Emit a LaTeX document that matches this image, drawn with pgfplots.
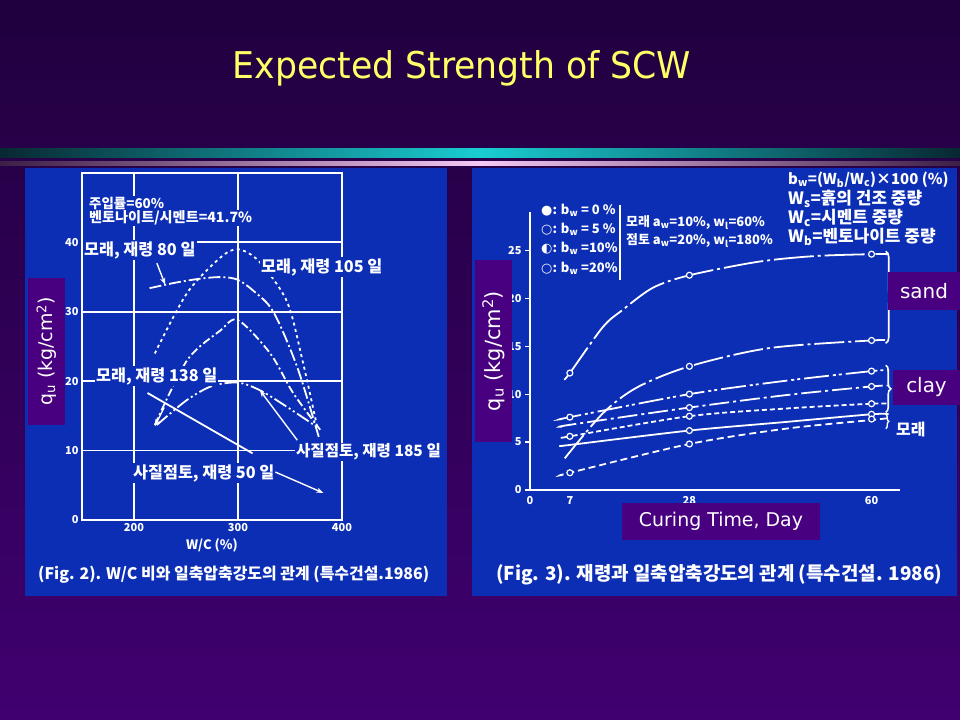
\documentclass[border=0pt]{standalone}
\usepackage{pgfplots}
\pgfplotsset{compat=1.18}
\usepackage{fontspec}
\setmainfont{DejaVu Sans}
\newfontfamily\kr{Noto Sans CJK KR}
\newfontfamily\dv{DejaVu Sans}
\usetikzlibrary{arrows.meta,decorations.pathreplacing}
\definecolor{bgtop}{RGB}{32,0,62}
\definecolor{bgbot}{RGB}{64,0,112}
\definecolor{panel}{RGB}{12,46,180}
\definecolor{lab}{RGB}{72,0,128}
\definecolor{ttl}{RGB}{255,255,102}
\definecolor{tealedge}{RGB}{8,40,50}
\definecolor{tealmid}{RGB}{25,205,210}
\definecolor{pinkedge}{RGB}{60,30,70}
\definecolor{pinkmid}{RGB}{245,200,245}
\newcommand{\fs}[1]{\fontsize{#1}{#1}\selectfont}
\begin{document}
\begin{tikzpicture}
\begin{scope}[x=1bp,y=1bp]
\shade[top color=bgtop, bottom color=bgbot] (0,0) rectangle (960,720);
\useasboundingbox (0,0) rectangle (960,720);
\node[anchor=base, text=ttl, font=\fs{37}, xscale=0.94] at (462,641) {Expected Strength of SCW};
\shade[left color=tealedge, right color=tealedge, middle color=tealmid] (0,562) rectangle (960,571);
\shade[left color=pinkedge, right color=pinkedge, middle color=pinkmid] (0,554) rectangle (960,558);
\fill[panel] (25,124) rectangle (447,552);
\fill[panel] (472,124) rectangle (957,552);
\end{scope}

% ---------- left chart ----------
\begin{axis}[at={(82bp,200bp)}, anchor=south west, scale only axis, width=260bp, height=347bp,
  xmin=150, xmax=400, ymin=0, ymax=50, clip=false,
  axis line style={white, line width=1.8pt},
  xtick={200,300,400}, ytick={0,10,20,30,40},
  grid=major, grid style={white, line width=1.8pt},
  major tick length=0pt,
  tick label style={white, font=\kr\bfseries\fs{11}},
  /pgf/number format/assume math mode=true,
  xlabel={W/C (\%)}, xlabel style={white, font=\kr\bfseries\fs{13}},
  every axis plot/.append style={white, line width=1.8pt},
]
\addplot[smooth, dash pattern=on 3pt off 3.5pt] coordinates {(220,24) (251,32.7) (283,37.8) (300,39) (320,37.3) (347,31.5) (362,23) (376,13.5)};
\addplot[smooth, dash pattern=on 12pt off 3pt on 2pt off 3pt] coordinates {(215,33.4) (240,34.2) (265,34.8) (285,35) (300,34.6) (315,33) (334,30) (357,22) (378,11.8)};
\addplot[smooth, dash pattern=on 8pt off 3pt on 2pt off 3pt] coordinates {(220,13.7) (251,23) (283,27.3) (300,28.8) (331,24) (353,18.3) (379,13)};
\addplot[smooth, dash pattern=on 14pt off 3pt on 2pt off 3pt on 2pt off 3pt] coordinates {(222,13.7) (251,17.3) (275,19.3) (300,19.8) (321,18.7) (345,16.5) (375,13.5)};
\addplot[] coordinates {(213,18.3) (314,9.6)};
\draw[white, line width=1.4pt, -{Stealth[length=7pt]}] (axis cs:222,37) -- (axis cs:230,33.9);
\draw[white, line width=1.4pt, -{Stealth[length=7pt]}] (axis cs:336,6.9) -- (axis cs:382,3.9);
\draw[white, line width=1.4pt, -{Stealth[length=7pt]}] (axis cs:357,11.5) -- (axis cs:321,18.7);
\draw[white, line width=1.4pt, -{Stealth[length=7pt]}] (axis cs:229,16.2) -- (axis cs:220,13.5);
\end{axis}

% ---------- right chart ----------
\begin{axis}[at={(530bp,230bp)}, anchor=south west, scale only axis, width=370bp, height=278bp,
  xmin=0, xmax=65, ymin=0, ymax=29, clip=false,
  axis lines=left, axis line style={white, line width=1.8pt, -},
  xtick={0,7,28,60}, ytick={0,5,10,15,20,25},
  ytick style={white, line width=1.2pt}, xtick style={draw=none},
  major tick length=5bp, tick align=outside,
  tick label style={white, font=\kr\bfseries\fs{11}},
  xticklabel style={yshift=2bp},
  /pgf/number format/assume math mode=true,
  every axis plot/.append style={white, line width=1.8pt},
]
\addplot[smooth, dash pattern=on 40pt off 4pt on 3pt off 4pt] coordinates {(6,11.5) (7,12.2) (12.8,17) (16.3,18.8) (21.6,21.1) (28,22.4) (40,23.8) (50,24.4) (60,24.6) (63,24.6)};
\addplot[smooth, dash pattern=on 30pt off 4pt on 3pt off 4pt] coordinates {(6.1,3.3) (12.8,8) (18.8,10.7) (28,12.9) (42,14.8) (60,15.6) (63,15.6)};
\addplot[smooth, dash pattern=on 25pt off 4pt on 3pt off 3pt on 3pt off 4pt] coordinates {(5.6,7.4) (7,7.6) (28,10) (45,11.4) (60,12.4) (63,12.5)};
\addplot[smooth, dash pattern=on 20pt off 4pt on 3pt off 4pt] coordinates {(5.6,6.6) (7,6.8) (28,8.6) (45,9.9) (60,10.8) (63,10.9)};
\addplot[smooth, dash pattern=on 5pt off 3pt] coordinates {(6.1,5.5) (7,5.6) (28,7.7) (45,8.5) (60,9.0) (63,9.0)};
\addplot[smooth] coordinates {(5.6,4.6) (7,4.7) (28,6.2) (45,7.1) (60,7.9) (63,7.9)};
\addplot[smooth, dash pattern=on 7pt off 4pt] coordinates {(5.8,1.6) (7,1.8) (28,4.8) (45,6.4) (60,7.3) (63,7.5)};
\addplot[only marks, mark=*, mark size=3pt, mark options={fill=panel, draw=white, line width=1.2pt}] coordinates {
(7,12.2) (28,22.4) (60,24.6) (28,12.9) (60,15.6) (7,7.6) (28,10) (60,12.4) (28,8.6) (60,10.8)
(7,5.6) (28,7.7) (60,9.0) (28,6.2) (60,7.9) (7,1.8) (28,4.8) (60,7.4)};
\draw[white, line width=1.6pt, decorate, decoration={brace, amplitude=6pt}] (axis cs:62.5,24.9) -- (axis cs:62.5,15.3);
\draw[white, line width=1.6pt, decorate, decoration={brace, amplitude=5pt}] (axis cs:62.5,13.0) -- (axis cs:62.5,8.1);
\draw[white, line width=1.4pt, decorate, decoration={brace, amplitude=3pt}] (axis cs:62.5,7.9) -- (axis cs:62.5,6.4);
\end{axis}

\begin{scope}[x=1bp,y=1bp]
\begin{scope}[every node/.style={text=white, font=\kr\bfseries\fs{16.3}, fill=panel, inner sep=1pt, anchor=west}]
\node[font=\kr\bfseries\fs{13.5}] at (88,517) {주입률=60\%};
\node[font=\kr\bfseries\fs{14.2}] at (88,502) {벤토나이트/시멘트=41.7\%};
\node at (83,470) {모래, 재령 80 일};
\node at (260,453) {모래, 재령 105 일};
\node at (95,344) {모래, 재령 138 일};
\node[font=\kr\bfseries\fs{15.6}] at (295,268) {사질점토, 재령 185 일};
\node at (132,247) {사질점토, 재령 50 일};
\node[font=\kr\bfseries\fs{16}] at (37,145) {(Fig. 2). W/C 비와 일축압축강도의 관계 (특수건설.1986)};
\end{scope}
\begin{scope}[every node/.style={text=white, font=\kr\bfseries\fs{13}, inner sep=1pt, anchor=west}]
\node at (540,510) {{\dv ●}: b\textsubscript{w} = 0 \%};
\node at (540,491) {{\dv ○}: b\textsubscript{w} = 5 \%};
\node at (540,472) {{\dv ◐}: b\textsubscript{w} =10\%};
\node at (540,452) {{\dv ○}: b\textsubscript{w} =20\%};
\node at (625,497) {모래 a\textsubscript{w}=10\%, w\textsubscript{l}=60\%};
\node at (625,479) {점토 a\textsubscript{w}=20\%, w\textsubscript{l}=180\%};
\node[font=\kr\bfseries\fs{15}] at (787,540) {b\textsubscript{w}=(W\textsubscript{b}/W\textsubscript{c})×100 (\%)};
\node[font=\kr\bfseries\fs{17}] at (787,521) {W\textsubscript{s}=흙의 건조 중량};
\node[font=\kr\bfseries\fs{17}] at (787,502) {W\textsubscript{c}=시멘트 중량};
\node[font=\kr\bfseries\fs{17}] at (787,483) {W\textsubscript{b}=벤토나이트 중량};
\node[font=\kr\bfseries\fs{16}] at (895,290) {모래};
\node[font=\kr\bfseries\fs{19}] at (495,145) {(Fig. 3). 재령과 일축압축강도의 관계 (특수건설. 1986)};
\end{scope}
\draw[white, line width=1.6pt] (620,515) -- (620,440);

% ---------- overlay labels ----------
\node[fill=lab, text=white, rotate=90, minimum width=147bp, minimum height=37bp, inner sep=0pt, font=\fs{19}] at (46.5,368.5) {q\textsubscript{u} (kg/cm\textsuperscript{2})};
\node[fill=lab, text=white, rotate=90, minimum width=182bp, minimum height=37bp, inner sep=0pt, font=\fs{21}] at (493.5,369) {q\textsubscript{u} (kg/cm\textsuperscript{2})};
\node[fill=lab, text=white, minimum width=72bp, minimum height=38bp, inner sep=0pt, font=\fs{20}] at (924,429) {sand};
\node[fill=lab, text=white, minimum width=67bp, minimum height=35bp, inner sep=0pt, font=\fs{20}] at (926.5,332.5) {clay};
\node[fill=lab, text=white, minimum width=198bp, minimum height=37bp, inner sep=0pt, font=\fs{19}] at (721,198.5) {Curing Time, Day};
\end{scope}
\end{tikzpicture}
\end{document}
